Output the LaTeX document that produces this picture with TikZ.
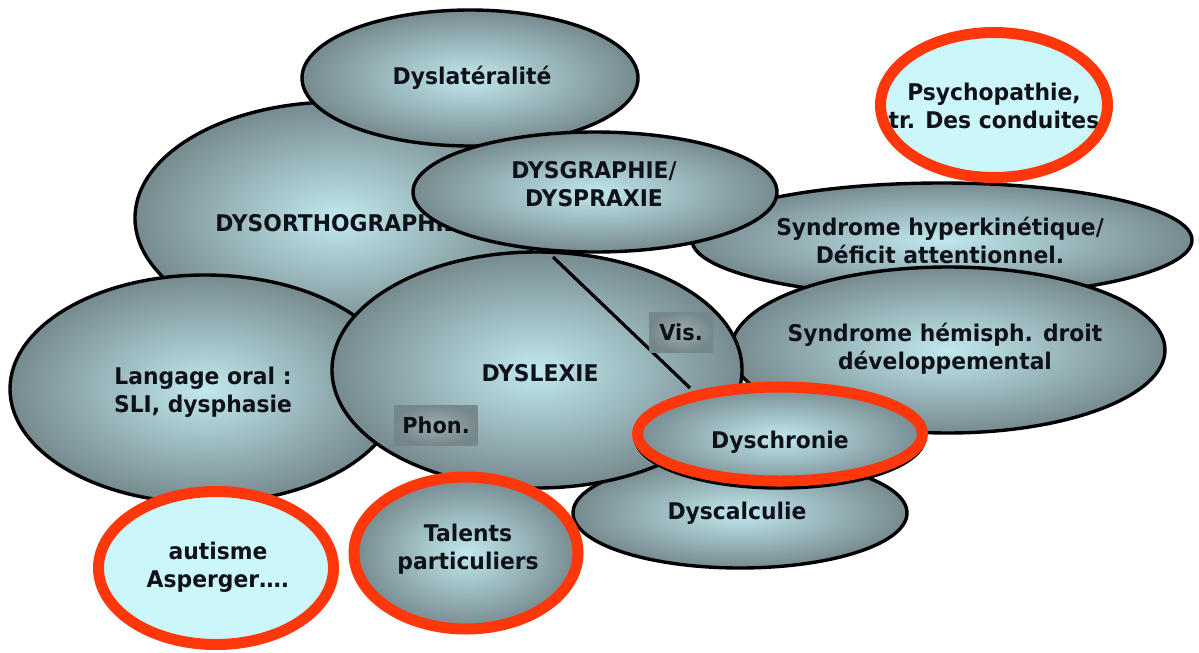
\documentclass[tikz,border=0pt]{standalone}
\usepackage{fontspec}
\usetikzlibrary{shapes.geometric}
\newfontfamily\lblfont{DejaVu Sans}[FakeStretch=0.95]

\definecolor{blobmid}{RGB}{192,232,237}
\definecolor{blobrim}{RGB}{118,138,143}
\definecolor{paleblue}{RGB}{204,247,250}
\definecolor{ringred}{RGB}{255,55,10}
\definecolor{tagmid}{RGB}{158,175,179}
\definecolor{tagrim}{RGB}{118,135,139}
\definecolor{ink}{RGB}{15,17,25}

\begin{document}
\begin{tikzpicture}[x=1pt,y=-1pt,
  blob/.style={ellipse, draw=black, line width=3.4pt, shading=radial,
    inner color=blobmid, outer color=blobrim, inner sep=0pt, outer sep=0pt},
  shadeonly/.style={ellipse, shading=radial, inner color=blobmid,
    outer color=blobrim, inner sep=0pt, outer sep=0pt},
  pale/.style={ellipse, draw=black, line width=1.8pt, fill=paleblue,
    inner sep=0pt, outer sep=0pt},
  ring/.style={ellipse, draw=ringred, line width=11pt, inner sep=0pt, outer sep=0pt},
  tag/.style={rectangle, shading=radial, inner color=tagmid, outer color=tagrim,
    inner sep=0pt, font=\lblfont\bfseries\fontsize{22}{26}\selectfont, text=ink},
  lbl/.style={font=\lblfont\bfseries\fontsize{23}{28}\selectfont, text=ink,
    align=center, inner sep=0pt}
]
\useasboundingbox (0,0) rectangle (1199,653);

% back layer
\node[blob, minimum width=404pt, minimum height=232pt] (dysortho) at (337,218) {};
\node[lbl] (dysortho-t) at (337,223) {DYSORTHOGRAPHIE};

\node[blob, minimum width=390pt, minimum height=228pt] (langage) at (205,389) {};
\node[lbl] (langage-t) at (203,392) {Langage oral :\\SLI, dysphasie};

\node[blob, minimum width=336pt, minimum height=136pt] (dyslat) at (470,78) {};
\node[lbl] (dyslat-t) at (472,78) {Dyslatéralité};

\node[blob, minimum width=500pt, minimum height=114pt] (hyper) at (942,240) {};
\node[lbl] (hyper-t) at (940,240) {Syndrome hyperkinétique/\\Déficit attentionnel.};

\node[blob, minimum width=434pt, minimum height=166pt] (hemi) at (948,350) {};
\node[lbl] (hemi-t) at (945,349) {Syndrome hémisph. droit\\développemental};

\node[blob, minimum width=334pt, minimum height=110pt] (calc) at (740,513) {};
\node[lbl] (calc-t) at (737,513) {Dyscalculie};

% reading disorder, split into two routes
\node[blob, minimum width=410pt, minimum height=236pt] (dyslexie) at (537,370) {};
\node[lbl] (dyslexie-t) at (540,373) {DYSLEXIE};
\coordinate (cut-a) at (553,257);
\coordinate (cut-b) at (690,388);
\draw[line width=3.2pt] (cut-a) -- (cut-b);
\node[tag, minimum width=64pt, minimum height=40pt] (vis) at (681,332) {Vis.};
\node[tag, minimum width=83pt, minimum height=40pt] (phon) at (436,425) {Phon.};

\node[blob, minimum width=364pt, minimum height=120pt] (graph) at (595,192) {};
\node[lbl] (graph-t) at (594,184) {DYSGRAPHIE/\\DYSPRAXIE};

% highlighted items
\node[shadeonly, minimum width=224pt, minimum height=152pt] (talents) at (466,553) {};
\node[lbl] (talents-t) at (468,549) {Talents\\particuliers};
\node[ring, minimum width=224pt, minimum height=152pt] (talents-r) at (466,553) {};

\node[blob, minimum width=290pt, minimum height=102pt] (chrono) at (780,437) {};
\node[lbl] (chrono-t) at (780,442) {Dyschronie};
\node[ring, minimum width=285pt, minimum height=94pt] (chrono-r) at (780,434) {};

\node[pale, minimum width=236pt, minimum height=154pt] (autisme) at (217,569) {};
\node[lbl] (autisme-t) at (218,567) {autisme\\Asperger….};
\node[ring, minimum width=235pt, minimum height=153pt] (autisme-r) at (216,568) {};

\node[pale, minimum width=228pt, minimum height=146pt] (psycho) at (995,106) {};
\node[lbl] (psycho-t) at (994,106) {Psychopathie,\\tr. Des conduites};
\node[ring, minimum width=227pt, minimum height=145pt] (psycho-r) at (994,105) {};
\end{tikzpicture}
\end{document}
